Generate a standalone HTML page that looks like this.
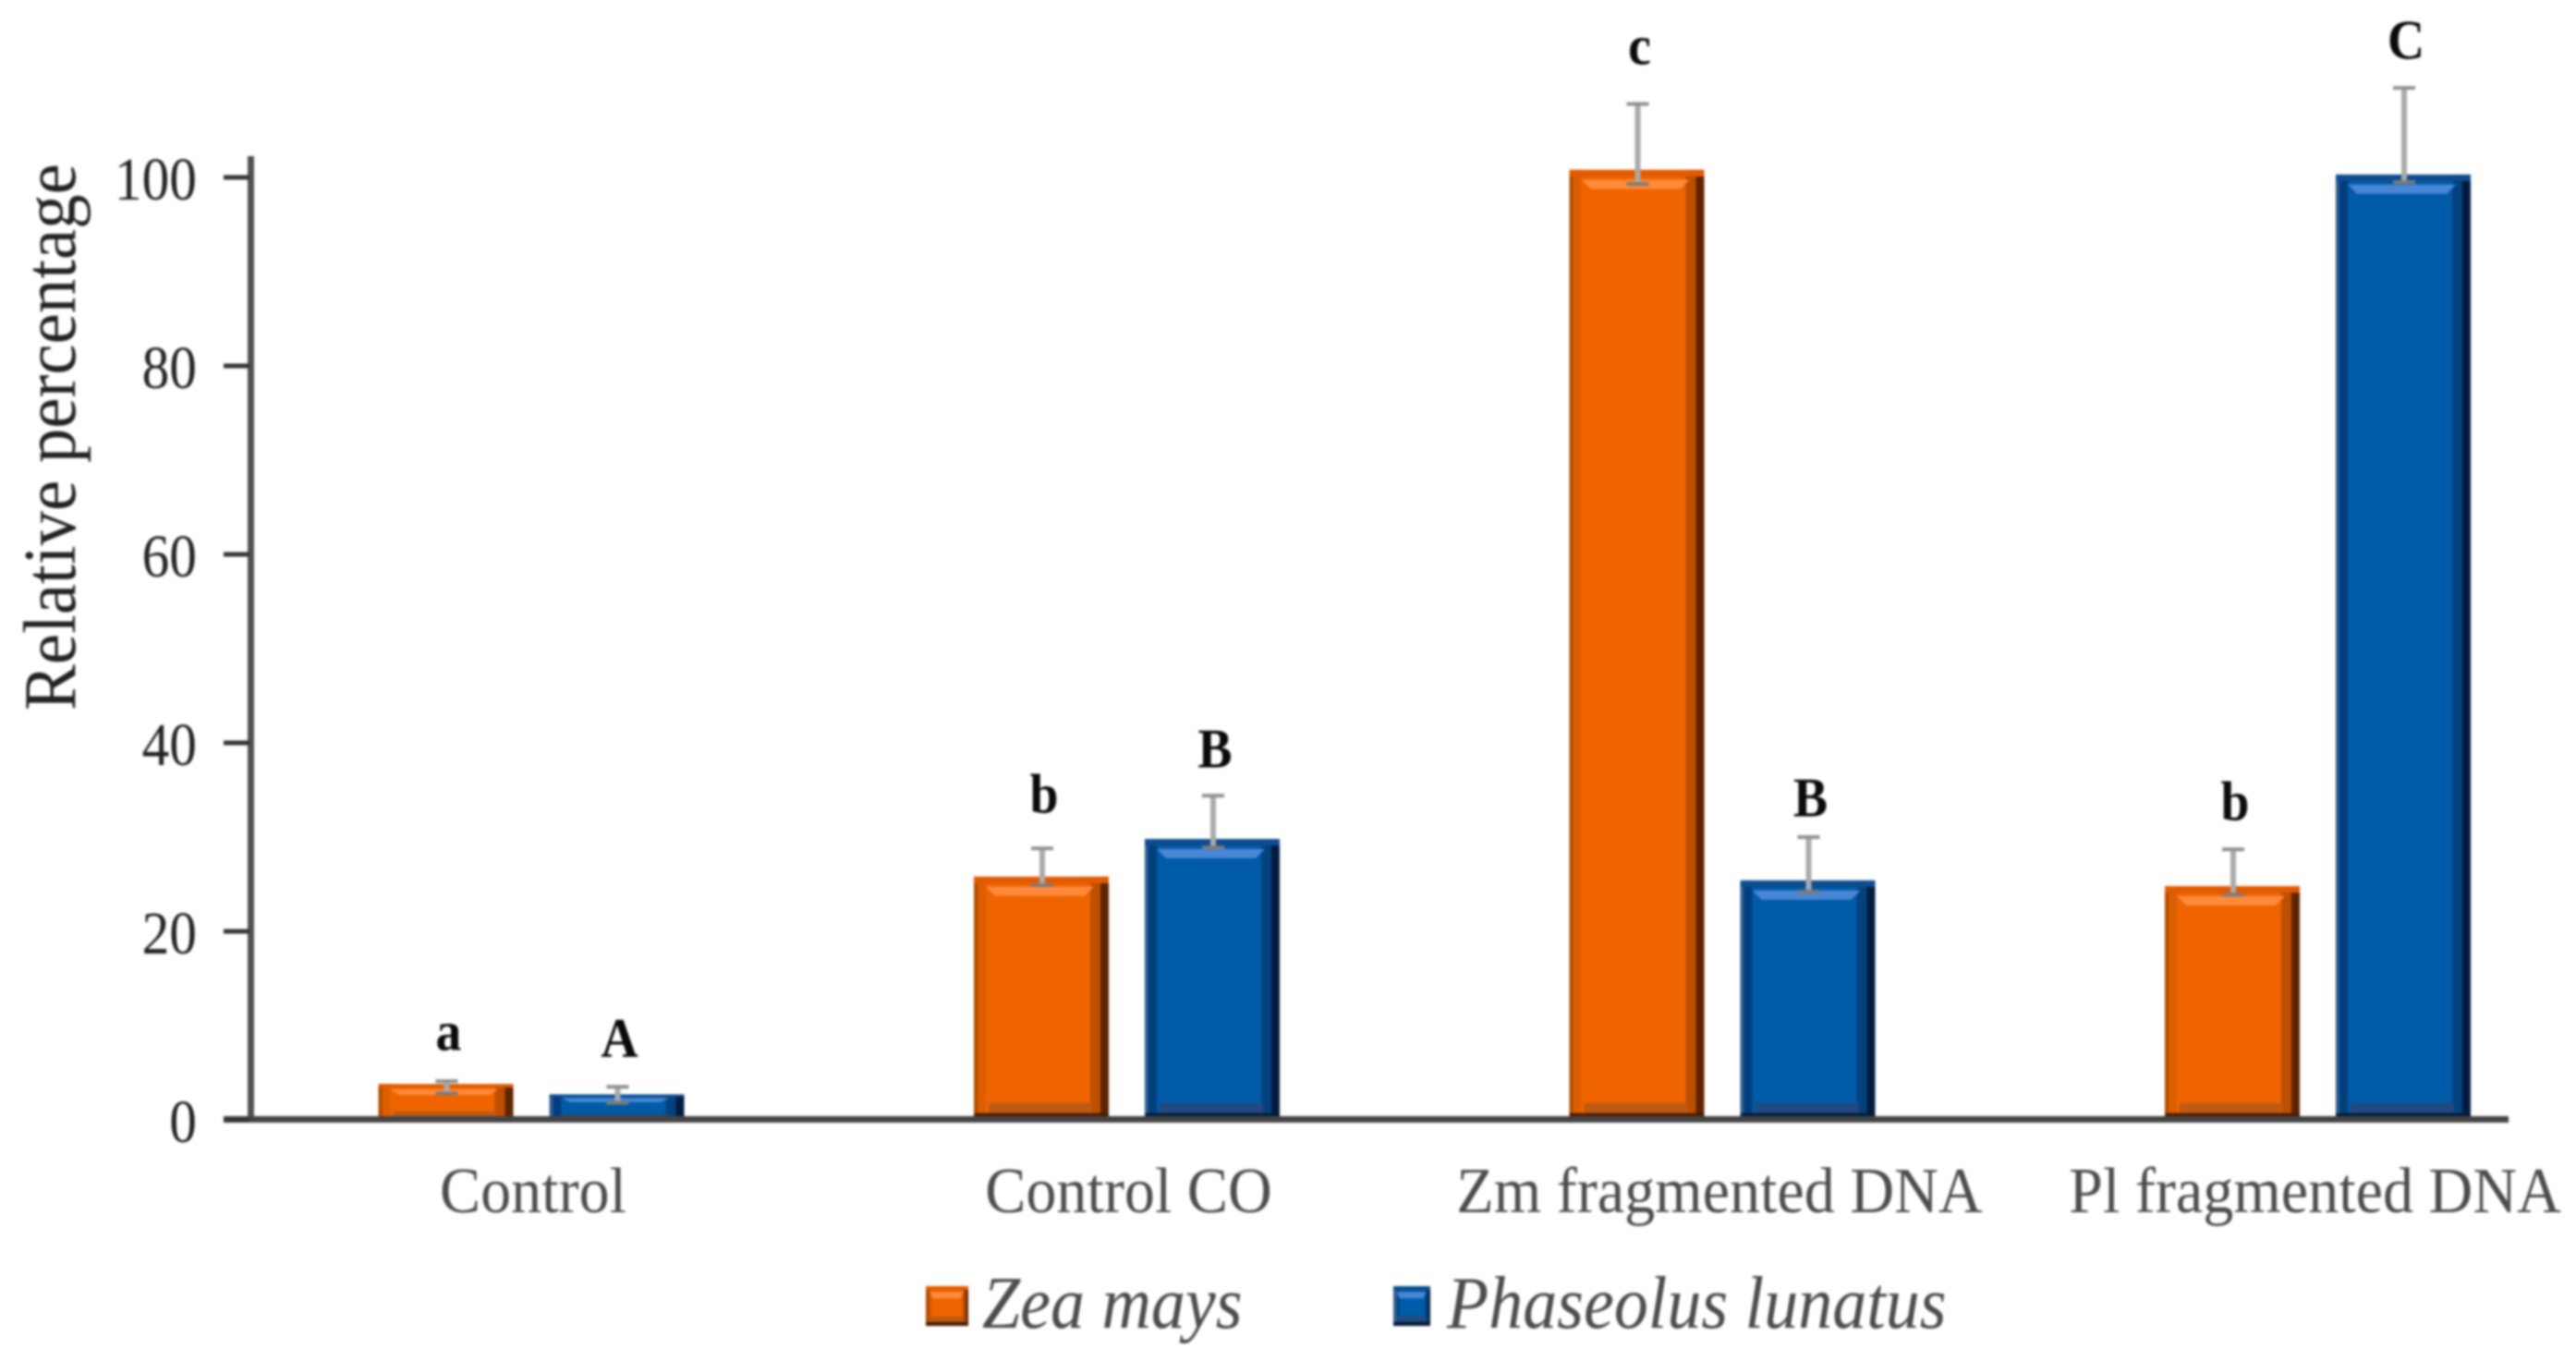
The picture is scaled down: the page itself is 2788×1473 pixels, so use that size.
<!DOCTYPE html>
<html lang="en">
<head>
<meta charset="utf-8">
<title>Relative percentage bar chart</title>
<style>
html,body{margin:0;padding:0;background:#fff;width:2788px;height:1473px;overflow:hidden}
svg{display:block;filter:blur(1.2px)}
text{font-family:"Liberation Serif",serif}
</style>
</head>
<body>
<svg id="chart" xmlns="http://www.w3.org/2000/svg" width="2788" height="1473" viewBox="0 0 2788 1473">
  <rect width="2788" height="1473" fill="#ffffff"/>
  <g id="bars"></g>
  <g id="axes"></g>
  <text transform="translate(81,769) rotate(-90) scale(.935,1)" font-size="80" fill="#222">Relative percentage</text>
  <g id="legend"></g>
</svg>
<script>
const categories = ['Control', 'Control CO', 'Zm fragmented DNA', 'Pl fragmented DNA'];
const zeaValues = [3.8, 25.8, 100.8, 24.8];
const zeaErrUp = [0.3, 3.0, 7.0, 3.9];
const zeaErrDown = [1.0, 0.9, 1.5, 0.9];
const zeaLetters = ['a', 'b', 'c', 'b'];
const zeaLetterLift = [3.3, 3.8, 4.2, 3.1];
const limaValues = [2.7, 29.8, 25.4, 100.3];
const limaErrUp = [0.8, 4.6, 4.6, 9.2];
const limaErrDown = [0.9, 0.9, 1.2, 0.8];
const limaLetters = ['A', 'B', 'B', 'C'];
const limaLetterLift = [3.2, 3.0, 2.2, 3.1];
const yTicks = [0, 20, 40, 60, 80, 100];
const legendLabels = ['Zea mays', 'Phaseolus lunatus'];

const NS = 'http://www.w3.org/2000/svg';
const bars = document.getElementById('bars');
const axes = document.getElementById('axes');
const legend = document.getElementById('legend');

function yScale(v) { return 1212 - v * 10.2; }
function xBand(i) { return 575 + i * 644.5; }

function make(tag, attrs, parent) {
  const el = document.createElementNS(NS, tag);
  for (const k in attrs) el.setAttribute(k, attrs[k]);
  parent.appendChild(el);
  return el;
}

const orangePal = { edge: '#b04c00', left: '#dc5e00', main: '#ef6400', rightA: '#bd4f00', rightB: '#5e2400', top: '#e25a00', shine: '#ff8a3c', base: '#bd5a14', foot: '#4a1a00' };
const bluePal = { edge: '#2f5c8e', left: '#003f7c', main: '#005ba8', rightA: '#03427e', rightB: '#021c40', top: '#0c4c90', shine: '#4a86d6', base: '#234a7c', foot: '#031a3a' };

function piece(g, name, attrs, tag) {
  const el = make(tag || 'rect', attrs, g);
  
  
  return el;
}

function drawBevelBox(g, x, y, w, h, pal) {
  const side = Math.min(w * 0.07, 10);
  const cap = Math.min(h * 0.16, 12);
  piece(g, 'bar-body', { x: x, y: y, width: w, height: h, fill: pal.main });
  piece(g, 'bar-left-bevel', { x: x + 4, y: y, width: side * 0.9, height: h, fill: pal.left });
  piece(g, 'bar-left-edge', { x: x, y: y, width: 4, height: h, fill: pal.edge });
  piece(g, 'bar-right-bevel', { x: x + w - side * 2, y: y, width: side * 1.1, height: h, fill: pal.rightA });
  piece(g, 'bar-right-edge', { x: x + w - side * 0.9, y: y, width: side * 0.9, height: h, fill: pal.rightB });
  piece(g, 'bar-top-bevel', { x: x, y: y, width: w, height: cap * 0.6, fill: pal.top });
  const sy = y + cap * 0.9;
  const sh = Math.min(h * 0.16, 10);
  piece(g, 'bar-shine', { points: (x + side * 1.3) + ',' + sy + ' ' + (x + w - side * 1.6) + ',' + sy + ' ' + (x + w - side * 2.6) + ',' + (sy + sh) + ' ' + (x + side * 2.3) + ',' + (sy + sh), fill: pal.shine }, 'polygon');
  piece(g, 'bar-bottom-bevel', { x: x + side * 1.6, y: y + h - cap * 1.5, width: w - side * 3.4, height: cap * 0.9, fill: pal.base });
  piece(g, 'bar-bottom-edge', { x: x, y: y + h - cap * 0.6, width: w, height: cap * 0.6, fill: pal.foot });
}

function drawBar(i, value, up, down, letter, lift, offset, pal, key) {
  const x = xBand(i) + offset - 73;
  const top = yScale(value);
  const h = yScale(0) - top;
  const g = make('g', {}, bars);
  
  
  drawBevelBox(g, x, top, 146, h, pal);

  const ex = x + 74;
  const eTop = yScale(value + up);
  const eLow = yScale(value - down);
  const stem = make('line', { x1: ex, x2: ex, y1: eTop, y2: eLow, stroke: '#aaaaaa', 'stroke-width': 6 }, g);
  
  
  const capTop = make('line', { x1: ex - 12, x2: ex + 12, y1: eTop, y2: eTop, stroke: '#909090', 'stroke-width': 4 }, g);
  
  
  const capLow = make('line', { x1: ex - 12, x2: ex + 12, y1: eLow, y2: eLow, stroke: '#807a76', 'stroke-width': 4 }, g);
  
  

  const t = make('text', { transform: 'translate(' + (ex + 2) + ',' + yScale(value + up + lift) + ') scale(.93,1)', 'text-anchor': 'middle', 'font-size': 60, 'font-weight': 'bold', fill: '#0a0a0a' }, g);
  t.textContent = letter;
  
  
}

categories.forEach(function (c, i) {
  drawBar(i, zeaValues[i], zeaErrUp[i], zeaErrDown[i], zeaLetters[i], zeaLetterLift[i], -92.5, orangePal, 'zea-mays');
  drawBar(i, limaValues[i], limaErrUp[i], limaErrDown[i], limaLetters[i], limaLetterLift[i], 92.5, bluePal, 'phaseolus-lunatus');
  const t = make('text', { transform: 'translate(' + (xBand(i) - (i > 1 ? 3 : -2)) + ',1312) scale(.945,1)', 'text-anchor': 'middle', 'font-size': 70, fill: '#4c4c4c' }, axes);
  t.textContent = c;
  
  
});

const yAxis = make('rect', { x: 268, y: 169, width: 7, height: 1046, fill: '#505050' }, axes);


const xAxis = make('rect', { x: 242, y: 1208, width: 2473, height: 7, fill: '#444444' }, axes);



yTicks.forEach(function (v) {
  const y = yScale(v);
  const tick = make('rect', { x: 242, y: y - 2.5, width: 28, height: 5, fill: '#333333' }, axes);
  
  
  const t = make('text', { transform: 'translate(213,' + (y + 24) + ') scale(.9,1)', 'text-anchor': 'end', 'font-size': 66, fill: '#222222' }, axes);
  t.textContent = String(v);
  
  
});

function drawLegend(label, pal, sx, sw, tx) {
  const g = make('g', {}, legend);
  
  
  drawBevelBox(g, sx, 1392, sw, 43, pal);
  const t = make('text', { transform: 'translate(' + tx + ',1437) scale(.925,1)', 'font-size': 80, 'font-style': 'italic', fill: '#4c4c4c' }, g);
  t.textContent = label;
  
  
}
drawLegend(legendLabels[0], orangePal, 1002, 46, 1063);
drawLegend(legendLabels[1], bluePal, 1508, 40, 1566);
</script>
</body>
</html>
